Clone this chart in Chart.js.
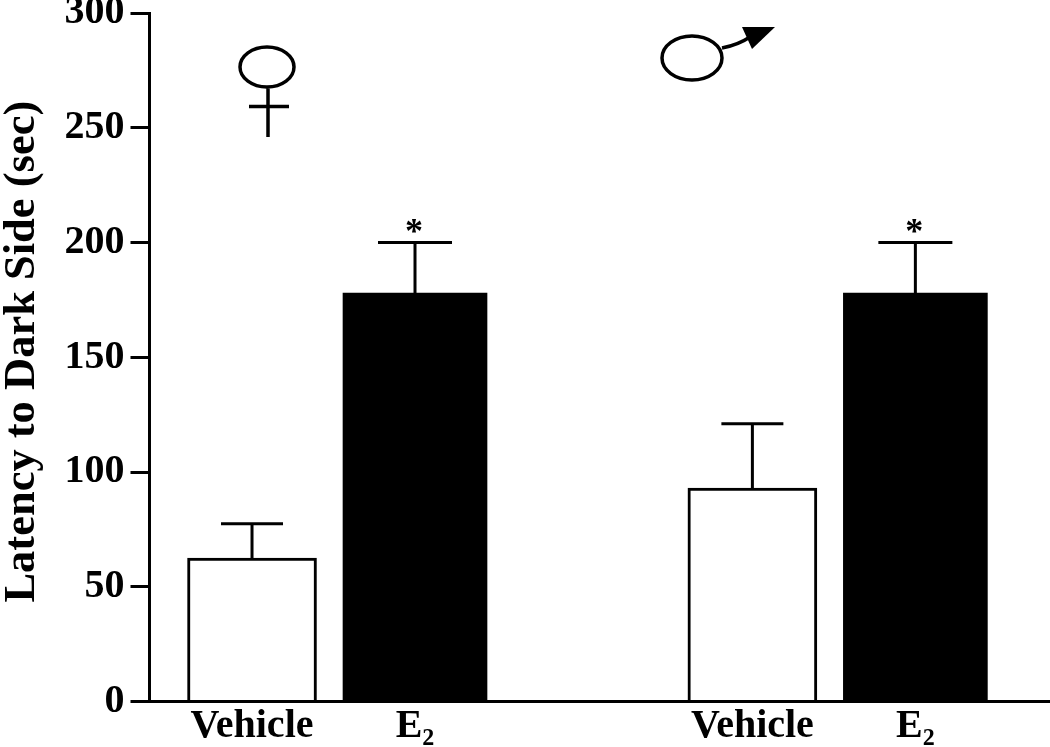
<!DOCTYPE html>
<html>
<head>
<meta charset="utf-8">
<title>Latency to Dark Side</title>
<script src="https://cdn.jsdelivr.net/npm/chart.js@4"></script>
<style>
	html, body { margin: 0; padding: 0; background: #fff; }
	canvas { display: block; }
</style>
</head>
<body>
<canvas id="chart" width="1050" height="747"></canvas>
<script>
var barLabels = ['Vehicle', 'E₂', 'Vehicle', 'E₂'];
var barSlots = [0, 1, 3.07, 4.07];
var latency = [62.5, 178, 93, 178];
var latencyError = [15, 22, 28, 22];
var significant = [false, true, false, true];
var yTicks = [0, 50, 100, 150, 200, 250, 300];

var serif = '"Liberation Serif", "Times New Roman", serif';

function pointsFor(indexes) {
	return indexes.map(function (i) {
		return { x: barSlots[i], y: latency[i] };
	});
}

var errorBars = {
	id: 'errorBars',
	afterDatasetsDraw: function (chart) {
		var ctx = chart.ctx;
		var x = chart.scales.x;
		var y = chart.scales.y;
		ctx.save();
		ctx.strokeStyle = '#000';
		ctx.fillStyle = '#000';
		ctx.lineWidth = 3;
		barSlots.forEach(function (slot, i) {
			var px = x.getPixelForValue(slot);
			var top = y.getPixelForValue(latency[i] + latencyError[i]);
			var base = y.getPixelForValue(latency[i]);
			var cap = i % 2 === 0 ? 31 : 37;
			ctx.beginPath();
			ctx.moveTo(px, base);
			ctx.lineTo(px, top);
			ctx.moveTo(px - cap, top);
			ctx.lineTo(px + cap, top);
			ctx.stroke();
			if (significant[i]) {
				ctx.font = 'bold 36px ' + serif;
				ctx.textAlign = 'center';
				ctx.textBaseline = 'alphabetic';
				ctx.fillText('*', px - 1, top);
			}
		});
		ctx.restore();
	}
};

// the two sex symbols above each group
var sexSymbols = {
	id: 'sexSymbols',
	afterDraw: function (chart) {
		var ctx = chart.ctx;
		ctx.save();
		ctx.strokeStyle = '#000';
		ctx.fillStyle = '#000';
		ctx.lineWidth = 3.5;

		ctx.beginPath();
		ctx.ellipse(267, 67, 27, 20, 0, 0, Math.PI * 2);
		ctx.moveTo(268, 87);
		ctx.lineTo(268, 137);
		ctx.moveTo(249, 106.5);
		ctx.lineTo(289, 106.5);
		ctx.stroke();

		ctx.beginPath();
		ctx.ellipse(692, 58, 30, 22, 0, 0, Math.PI * 2);
		ctx.moveTo(722, 48);
		ctx.quadraticCurveTo(738, 45, 750, 37);
		ctx.stroke();

		ctx.beginPath();
		ctx.moveTo(742, 27);
		ctx.lineTo(775, 27);
		ctx.lineTo(752, 49);
		ctx.closePath();
		ctx.fill();
		ctx.restore();
	}
};

new Chart(document.getElementById('chart'), {
	type: 'bar',
	data: {
		datasets: [{
			label: 'Vehicle',
			data: pointsFor([0, 2]),
			backgroundColor: '#fff',
			borderColor: '#000',
			borderWidth: 3,
			borderSkipped: 'bottom',
			barThickness: 129,
			grouped: false
		}, {
			label: 'E₂',
			data: pointsFor([1, 3]),
			backgroundColor: '#000',
			borderColor: '#000',
			borderWidth: 0,
			barThickness: 144,
			grouped: false
		}]
	},
	plugins: [errorBars, sexSymbols],
	options: {
		responsive: false,
		animation: false,
		layout: { padding: { top: 13, bottom: 0, left: 0, right: 0 } },
		plugins: {
			legend: { display: false },
			tooltip: { enabled: false }
		},
		scales: {
			x: {
				type: 'linear',
				offset: false,
				min: -0.629,
				max: 4.896,
				grid: { display: false, drawTicks: false },
				border: { color: '#000', width: 3 },
				afterBuildTicks: function (axis) {
					axis.ticks = barSlots.map(function (slot) {
						return { value: slot };
					});
				},
				afterFit: function (axis) {
					axis.height = 45.5;
					axis.paddingLeft = 0;
					axis.paddingRight = 0;
				},
				ticks: {
					autoSkip: false,
					maxRotation: 0,
					padding: 1,
					color: '#000',
					font: { family: serif, size: 40, weight: 'bold' },
					callback: function (value, index) {
						return barLabels[index];
					}
				}
			},
			y: {
				min: 0,
				max: 300,
				grid: {
					drawOnChartArea: false,
					color: '#000',
					lineWidth: 3,
					tickLength: 19
				},
				border: { color: '#000', width: 3 },
				afterBuildTicks: function (axis) {
					axis.ticks = yTicks.map(function (v) {
						return { value: v };
					});
				},
				afterFit: function (axis) {
					axis.width = 149.5;
					axis.paddingTop = 0;
					axis.paddingBottom = 0;
				},
				title: {
					display: true,
					text: ' Latency to Dark Side (sec)',
					color: '#000',
					padding: { top: -4, bottom: 0 },
					font: { family: serif, size: 44.5, weight: 'bold' }
				},
				ticks: {
					padding: 6,
					color: '#000',
					font: { family: serif, size: 40, weight: 'bold' }
				}
			}
		}
	}
});
</script>
</body>
</html>
